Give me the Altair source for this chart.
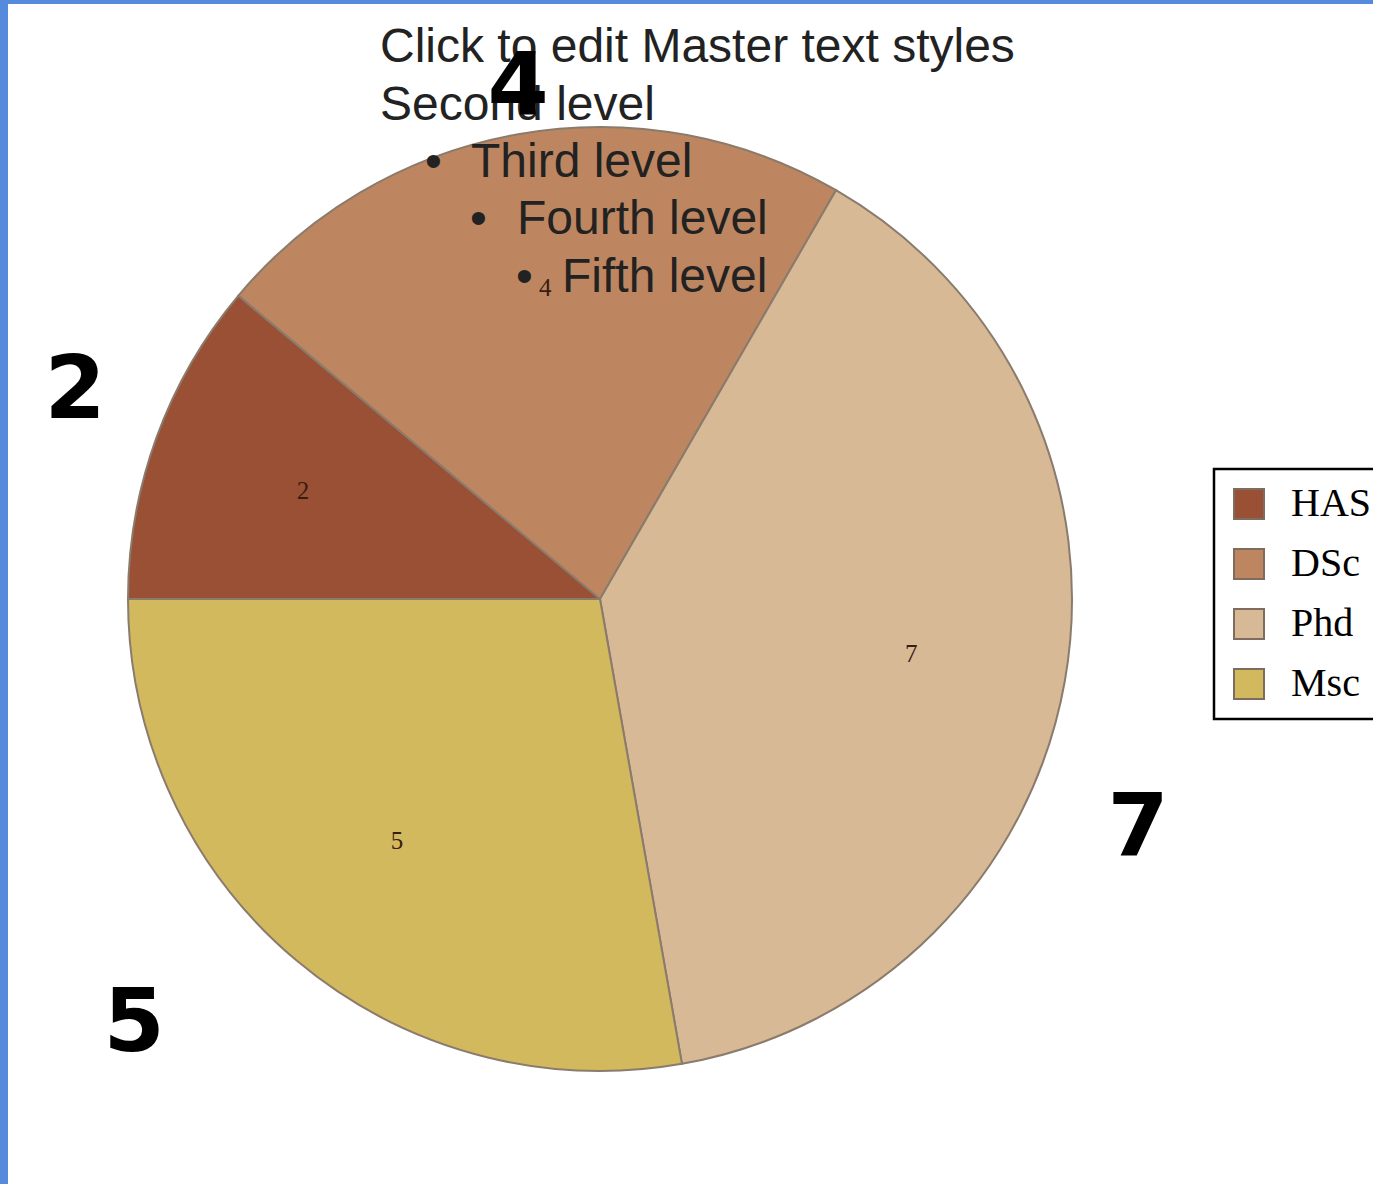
import math
import altair as alt
import pandas as pd

# ---- data ----
categories = ["HAS", "DSc", "Phd", "Msc"]
values = [2, 4, 7, 5]
colors = ["#9A5035", "#BE8660", "#D8B995", "#D3B95E"]
slide_lines = ["Click to edit Master text styles", "Second level",
               "Third level", "Fourth level", "Fifth level"]
bullet = "\u2022"

df = pd.DataFrame({
    "cat": categories,
    "value": values,
    "idx": list(range(len(categories))),
    "label": [str(v) for v in values],
})
one = pd.DataFrame({"a": [0]})

W, H = 1373, 1184
CX, CY, R = 600, 599, 472
START = 1.5 * math.pi

theta = alt.Theta("value:Q", stack=True,
                  scale=alt.Scale(range=[START, START + 2 * math.pi]))
order = alt.Order("idx:Q", sort="ascending")

legend = alt.Legend(
    title=None, orient="none", legendX=1214, legendY=469, padding=15,
    strokeColor="#000000", fillColor="#ffffff",
    symbolType="square", symbolSize=900, symbolStrokeWidth=2,
    symbolStrokeColor="#7e6d5f", symbolOpacity=1,
    labelFont="Liberation Serif", labelFontSize=40, labelColor="#000000",
    labelOffset=22, rowPadding=20, labelLimit=400,
)

pie = alt.Chart(df).mark_arc(radius=R, stroke="#8a7b6c", strokeWidth=2).encode(
    x=alt.value(CX), y=alt.value(CY),
    theta=theta, order=order,
    color=alt.Color("cat:N", sort=categories,
                    scale=alt.Scale(domain=categories, range=colors),
                    legend=legend),
)

inner = alt.Chart(df).mark_text(
    radius=316, font="Liberation Serif", fontSize=25, color="#3a1c10",
    align="center", baseline="middle",
).encode(x=alt.value(CX), y=alt.value(CY), theta=theta, order=order,
         text="label:N")

frame_left = alt.Chart(one).mark_rect(color="#558ADD").encode(
    x=alt.value(0), x2=alt.value(8), y=alt.value(0), y2=alt.value(H))
frame_top = alt.Chart(one).mark_rect(color="#558ADD").encode(
    x=alt.value(0), x2=alt.value(W), y=alt.value(0), y2=alt.value(4))


def txt(s, x, y, size=48, font="Liberation Sans", weight="normal",
        color="#222222", align="left"):
    return alt.Chart(one).mark_text(
        font=font, fontSize=size, fontWeight=weight, color=color,
        align=align, baseline="alphabetic",
    ).encode(x=alt.value(x), y=alt.value(y), text=alt.value(s))


slide = [
    txt(slide_lines[0], 380, 62),
    txt(slide_lines[1], 380, 120),
    txt(bullet, 425, 177),
    txt(slide_lines[2], 471, 177),
    txt(bullet, 470, 234),
    txt(slide_lines[3], 517, 234),
    txt(bullet, 516, 292),
    txt(slide_lines[4], 562, 292),
]

big_pos = [(75, 418), (518, 115), (1138, 856), (134, 1051)]
big = [txt(str(v), x, y, size=88, font="DejaVu Sans", weight="bold",
           color="#000000", align="center")
       for v, (x, y) in zip(values, big_pos)]

chart = alt.layer(frame_left, frame_top, pie, inner, *slide, *big).properties(
    width=W, height=H, padding=0, autosize="none", background="#ffffff",
).configure_view(strokeWidth=0).configure_legend(strokeWidth=2.5)

chart.save("out.html", embed_options={"renderer": "svg", "actions": False})
